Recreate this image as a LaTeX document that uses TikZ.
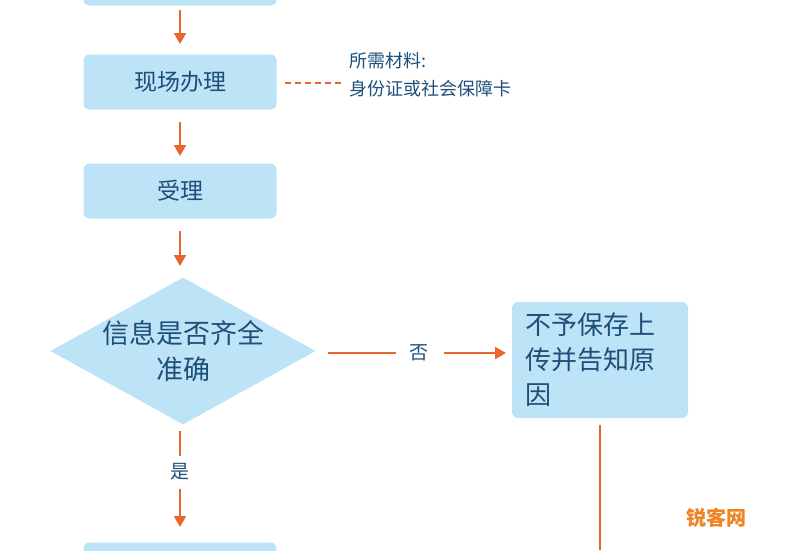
\documentclass[tikz,border=0pt]{standalone}
\usepackage{fontspec}
\newfontfamily\cjk{Noto Sans CJK SC}
\usetikzlibrary{shapes.geometric,arrows.meta}
\definecolor{boxc}{HTML}{BDE4F6}
\definecolor{txt}{HTML}{1E4F7A}
\definecolor{arr}{HTML}{E8662E}
\begin{document}
\begin{tikzpicture}[x=1pt,y=-1pt,
 box/.style={fill=boxc,rounded corners=6pt,minimum width=193pt,minimum height=55pt,font=\cjk\fontsize{23}{30}\selectfont,text=txt},
 con/.style={draw=arr,line width=2.2pt},
 arw/.style={con,-{Triangle[length=11pt,width=12pt]}},
 lab/.style={font=\cjk\fontsize{19}{24}\selectfont,text=txt}]
\useasboundingbox (0,0) rectangle (800,550);
\node[box] (b0) at (180,-22) {};
\node[box] (b1) at (180,82) {现场办理};
\node[box] (b2) at (180,191) {受理};
\node[diamond,fill=boxc,minimum width=265pt,minimum height=147pt,aspect=1.8,inner sep=0] (d) at (183,351) {};
\node[font=\cjk\fontsize{27}{36}\selectfont,text=txt,align=center] (dt) at (d) {信息是否齐全\\准确};
\node[box,minimum width=176pt,minimum height=116pt,align=left,text width=150pt,font=\cjk\fontsize{26}{35}\selectfont] (r) at (600,360) {不予保存上\\传并告知原\\因};
\node[box] (b3) at (180,570) {};
\coordinate (a0s) at (180,10); \coordinate (a0e) at (180,44);
\draw[arw] (a0s) -- (a0e);
\coordinate (a1s) at (180,122); \coordinate (a1e) at (180,156);
\draw[arw] (a1s) -- (a1e);
\coordinate (a2s) at (180,231); \coordinate (a2e) at (180,266);
\draw[arw] (a2s) -- (a2e);
\node[lab] (no) at (419,353) {否};
\coordinate (h1) at (328,353); \coordinate (h2) at (396,353);
\coordinate (h3) at (444,353); \coordinate (h4) at (506,353);
\draw[con] (h1) -- (h2); \draw[arw] (h3) -- (h4);
\node[lab] (yes) at (180,472) {是};
\coordinate (v1) at (180,431); \coordinate (v2) at (180,456);
\coordinate (v3) at (180,489); \coordinate (v4) at (180,527);
\draw[con] (v1) -- (v2); \draw[arw] (v3) -- (v4);
\coordinate (rd1) at (600,425); \coordinate (rd2) at (600,550);
\draw[con] (rd1) -- (rd2);
\coordinate (ds) at (285,83); \coordinate (de) at (342,83);
\draw[draw=arr,line width=1.6pt,dash pattern=on 6pt off 4pt] (ds) -- (de);
\node[lab,anchor=west,align=left,font=\cjk\fontsize{18}{28}\selectfont] (m) at (346,75) {所需材料:\\身份证或社会保障卡};
\node[font=\cjk\bfseries\fontsize{20}{22}\selectfont,text=arr!80!yellow] (wm) at (716,518) {锐客网};
\end{tikzpicture}
\end{document}
